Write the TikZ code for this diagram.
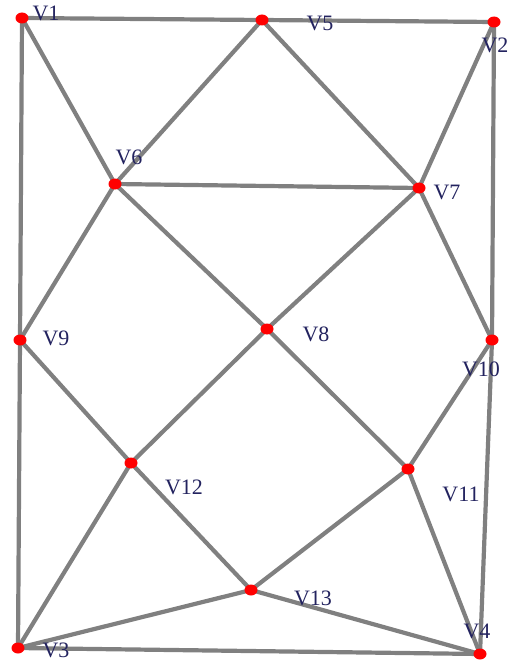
\documentclass[tikz,border=0pt]{standalone}
\usepackage{fontspec}
\setmainfont{Liberation Serif}
\usepackage{xcolor}
\definecolor{edgegray}{RGB}{128,128,128}
\definecolor{labnavy}{RGB}{35,35,95}
\usetikzlibrary{positioning}
\tikzset{
  vtx/.style={ellipse, fill=red, inner sep=0pt, minimum width=13pt, minimum height=11pt},
  edge/.style={draw=edgegray, line width=4.2pt},
  vlab/.style={font=\fontsize{22}{24}\selectfont, text=labnavy, inner sep=0pt}
}
\usetikzlibrary{shapes.geometric}
\begin{document}
\begin{tikzpicture}[x=1pt, y=-1pt]
\useasboundingbox (0,0) rectangle (509,661);
% Vertices (pixel positions, y downwards)
\foreach \n/\x/\y in {1/22/18, 5/262/20, 2/494/22, 6/115/184, 7/419/188,
  9/20/340, 8/267/329, 10/492/340, 12/131/463, 11/408/469, 13/251/590,
  3/18/648, 4/480/654} {
  \coordinate (v\n) at (\x,\y);
}
% Edges
\foreach \a/\b in {1/5, 5/2, 1/9, 9/3, 2/10, 10/4, 3/4, 1/6, 5/6, 5/7, 6/7,
  2/7, 6/9, 6/8, 7/8, 7/10, 9/12, 8/12, 8/11, 10/11, 12/3, 12/13, 11/13,
  11/4, 3/13, 13/4} {
  \draw[edge] (v\a) -- (v\b);
}
% Dots on top
\foreach \n in {1,...,13} {
  \node[vtx] (d\n) at (v\n) {};
}
% Labels
\node[vlab] (l1) at (46,13) {V1};
\node[vlab] (l5) at (320,23) {V5};
\node[vlab] (l2) at (495,45) {V2};
\node[vlab] (l6) at (129,157) {V6};
\node[vlab] (l7) at (447,192) {V7};
\node[vlab] (l9) at (56,338) {V9};
\node[vlab] (l8) at (316,334) {V8};
\node[vlab] (l10) at (481,369) {V10};
\node[vlab] (l12) at (184,487) {V12};
\node[vlab] (l11) at (461,494) {V11};
\node[vlab] (l13) at (313,598) {V13};
\node[vlab] (l3) at (56,650) {V3};
\node[vlab] (l4) at (477,631) {V4};
\end{tikzpicture}
\end{document}
